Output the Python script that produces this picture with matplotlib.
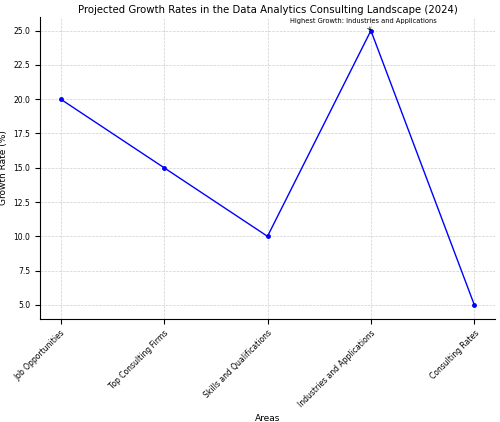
import matplotlib
matplotlib.use("Agg")
import matplotlib.pyplot as plt

areas = ["Job Opportunities", "Top Consulting Firms", "Skills and Qualifications",
         "Industries and Applications", "Consulting Rates"]
growth = [20, 15, 10, 25, 5]

fig, ax = plt.subplots(figsize=(5, 4.22), dpi=100)
ax.plot(areas, growth, marker='o', color='blue', markersize=2.5, linewidth=1)
ax.set_title("Projected Growth Rates in the Data Analytics Consulting Landscape (2024)", fontsize=7.3, pad=3)
ax.set_xlabel("Areas", fontsize=6.5)
ax.set_ylabel("Growth Rate (%)", fontsize=6.5)
ax.tick_params(axis='x', rotation=45, labelsize=5.5)
ax.tick_params(axis='y', labelsize=5.5)
for l in ax.get_xticklabels():
    l.set_ha('right')
    l.set_rotation_mode('anchor')
ax.grid(True, linestyle='--', linewidth=0.5, alpha=0.6)
ax.spines['top'].set_visible(False)
ax.spines['right'].set_visible(False)
ax.annotate("Highest Growth: Industries and Applications", xy=(3, 25), xytext=(2.22, 25.55),
            fontsize=4.8, arrowprops=dict(arrowstyle='->', color='black', lw=0.6))
plt.subplots_adjust(left=0.08, right=0.99, top=0.96, bottom=0.245)
fig.savefig("out.png", dpi=100)
